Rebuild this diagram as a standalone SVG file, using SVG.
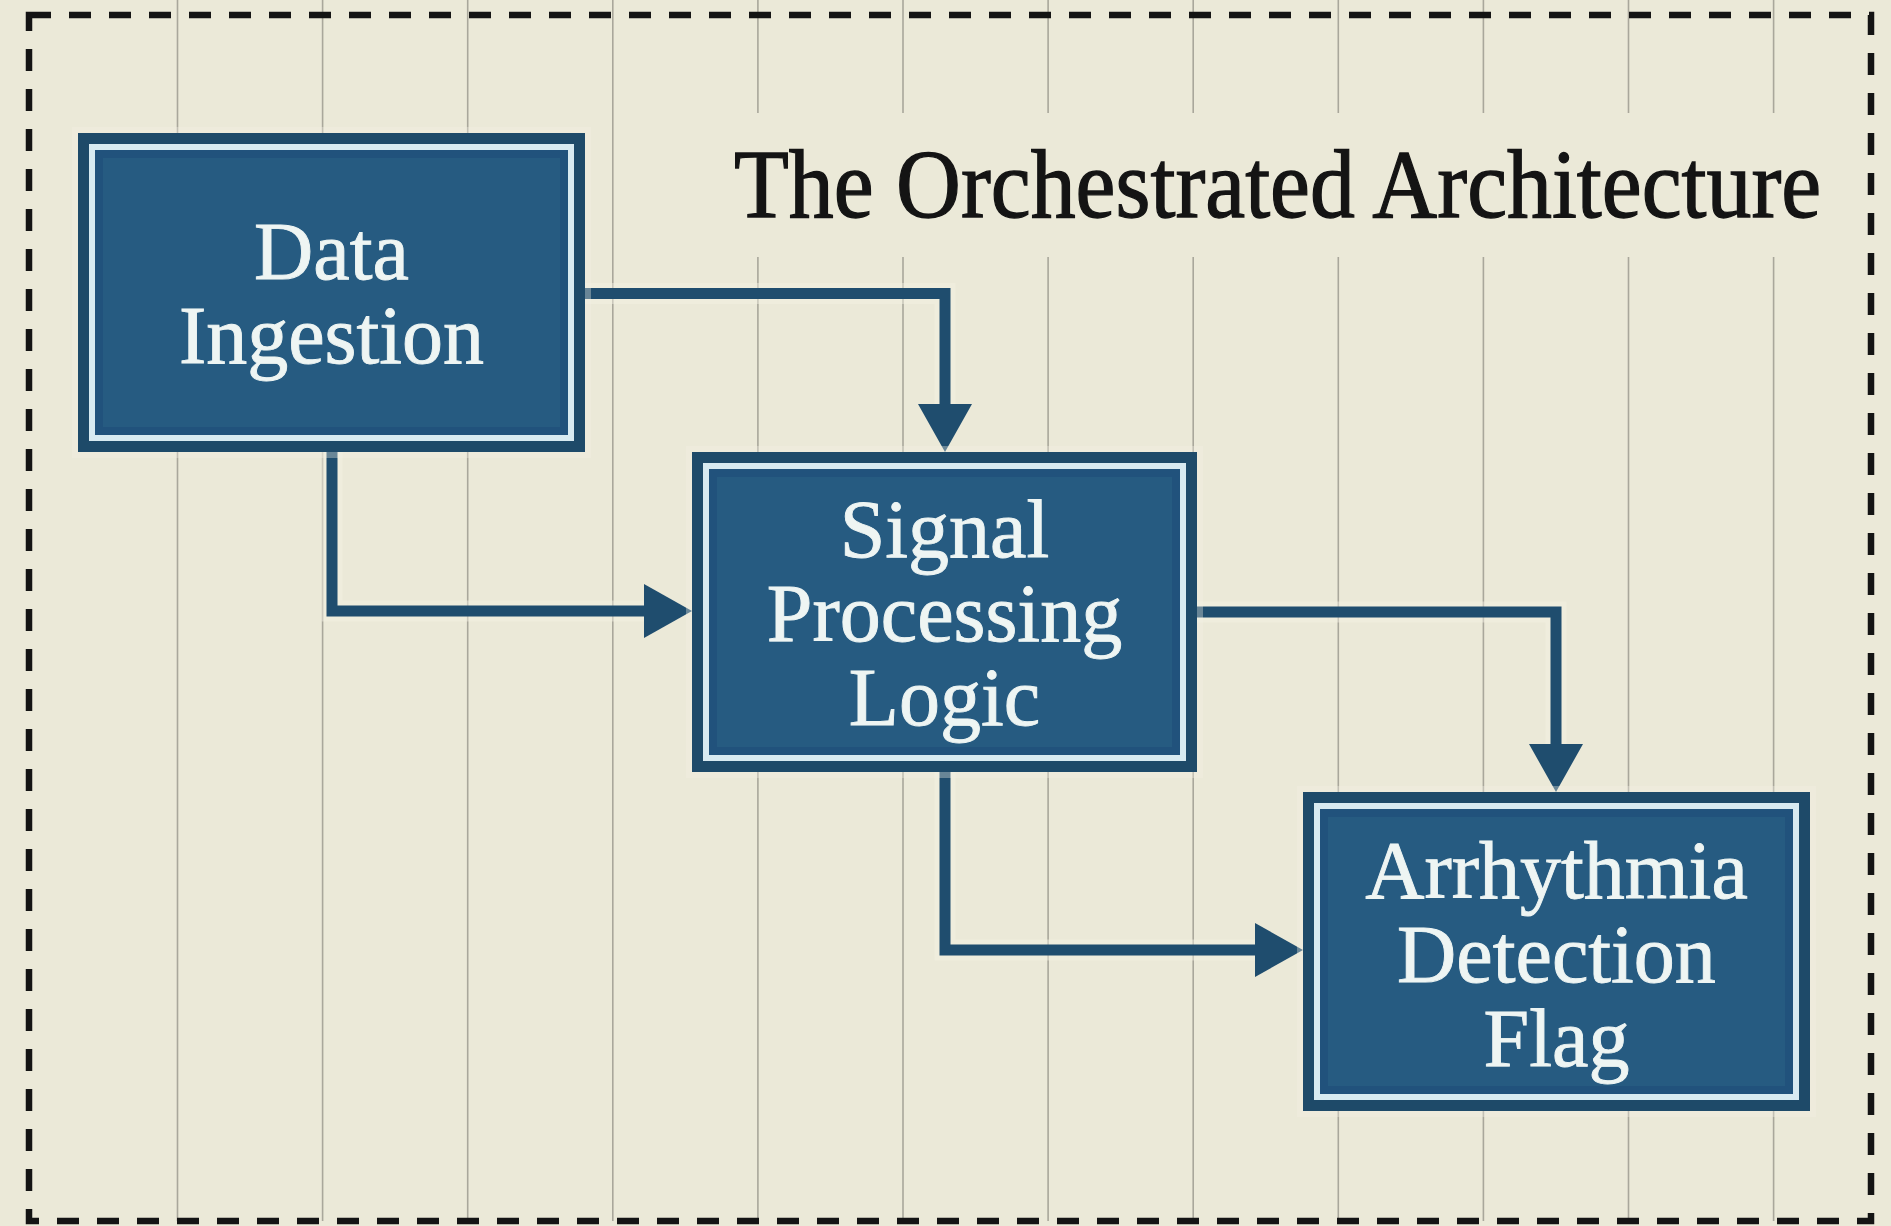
<svg xmlns="http://www.w3.org/2000/svg" width="1891" height="1226" viewBox="0 0 1891 1226">
  <style>
    .grid { stroke: #a9a79b; stroke-width: 1.6; }
    .frame { fill: none; stroke: #141414; stroke-width: 6.5; stroke-dasharray: 22 18; }
    .title { font-family: "Liberation Serif", "Times New Roman", serif; font-size: 97px; fill: #141414; stroke: #141414; stroke-width: 1.3; }
    .box-edge { fill: #1e4a69; }
    .box-rule { fill: none; stroke: #d8eaf1; stroke-width: 6; }
    .box-fill { fill: #265b81; }
    .box-shade { fill: none; stroke: #21507a; stroke-width: 8; opacity: 0.8; }
    .box-glow { fill: none; stroke: #f4f2e5; stroke-width: 6; opacity: 0.35; }
    .label { font-family: "Liberation Serif", "Times New Roman", serif; font-size: 82px; fill: #eef5f3; stroke: #eef5f3; stroke-width: 0.9; text-anchor: middle; }
    .halo { fill: none; stroke: #f4f2e5; stroke-width: 21; opacity: 0.45; }
    .wire { fill: none; stroke: #1f4d6e; stroke-width: 11; stroke-linejoin: miter; stroke-linecap: butt; }
  </style>
  <defs>
    <marker id="arrow" markerUnits="userSpaceOnUse" markerWidth="50" markerHeight="54" viewBox="0 0 50 54" refX="2" refY="27" orient="auto">
      <path d="M0,0 L48,27 L0,54 z" fill="#1f4d6e"/>
    </marker>
  </defs>

  <!-- paper -->
  <rect x="0" y="0" width="1891" height="1226" fill="#ebe9d8"/>

  <!-- vertical ruling; lines under the heading are interrupted -->
  <g id="grid" class="grid">
    <line x1="177.5" y1="0" x2="177.5" y2="1221"/>
    <line x1="322.6" y1="0" x2="322.6" y2="1221"/>
    <line x1="467.7" y1="0" x2="467.7" y2="1221"/>
    <line x1="612.8" y1="0" x2="612.8" y2="1221"/>
    <path d="M757.9,0 V113 M757.9,257 V1221"/>
    <path d="M903,0 V113 M903,257 V1221"/>
    <path d="M1048.1,0 V113 M1048.1,257 V1221"/>
    <path d="M1193.2,0 V113 M1193.2,257 V1221"/>
    <path d="M1338.3,0 V113 M1338.3,257 V1221"/>
    <path d="M1483.4,0 V113 M1483.4,257 V1221"/>
    <path d="M1628.5,0 V113 M1628.5,257 V1221"/>
    <path d="M1773.6,0 V113 M1773.6,257 V1221"/>
  </g>

  <!-- dashed outer frame -->
  <rect id="frame" class="frame" x="29" y="15" width="1842" height="1206"/>

  <!-- heading, set in a narrowed serif -->
  <g id="title" transform="translate(734,217) scale(0.926,1)">
    <text class="title" x="0" y="0">The Orchestrated Architecture</text>
  </g>

  <!-- connectors -->
  <g id="connectors">
    <path class="halo" d="M585,293.5 H945 V406"/>
    <path class="halo" d="M332,452 V611 H646"/>
    <path class="halo" d="M1197,612 H1556 V746"/>
    <path class="halo" d="M945,772 V950 H1257"/>
    <path class="wire" marker-end="url(#arrow)" d="M585,293.5 H945 V406"/>
    <path class="wire" marker-end="url(#arrow)" d="M332,452 V611 H646"/>
    <path class="wire" marker-end="url(#arrow)" d="M1197,612 H1556 V746"/>
    <path class="wire" marker-end="url(#arrow)" d="M945,772 V950 H1257"/>
  </g>

  <!-- node: Data Ingestion -->
  <g id="node-data-ingestion">
    <rect class="box-glow" x="75" y="130" width="513" height="325"/>
    <rect class="box-edge" x="78" y="133" width="507" height="319"/>
    <rect class="box-rule" x="92" y="147" width="479" height="291"/>
    <rect class="box-fill" x="95" y="150" width="473" height="285"/>
    <rect class="box-shade" x="99" y="154" width="465" height="277"/>
    <text class="label" x="331.5" y="279">Data</text>
    <text class="label" x="331.5" y="363">Ingestion</text>
  </g>

  <!-- node: Signal Processing Logic -->
  <g id="node-signal-processing">
    <rect class="box-glow" x="689" y="449" width="511" height="326"/>
    <rect class="box-edge" x="692" y="452" width="505" height="320"/>
    <rect class="box-rule" x="706" y="466" width="477" height="292"/>
    <rect class="box-fill" x="709" y="469" width="471" height="286"/>
    <rect class="box-shade" x="713" y="473" width="463" height="278"/>
    <text class="label" x="944.5" y="557">Signal</text>
    <text class="label" x="944.5" y="641">Processing</text>
    <text class="label" x="944.5" y="725">Logic</text>
  </g>

  <!-- node: Arrhythmia Detection Flag -->
  <g id="node-arrhythmia-flag">
    <rect class="box-glow" x="1300" y="789" width="513" height="325"/>
    <rect class="box-edge" x="1303" y="792" width="507" height="319"/>
    <rect class="box-rule" x="1317" y="806" width="479" height="291"/>
    <rect class="box-fill" x="1320" y="809" width="473" height="285"/>
    <rect class="box-shade" x="1324" y="813" width="465" height="277"/>
    <text class="label" x="1556.5" y="898">Arrhythmia</text>
    <text class="label" x="1556.5" y="982">Detection</text>
    <text class="label" x="1556.5" y="1066">Flag</text>
  </g>
</svg>
